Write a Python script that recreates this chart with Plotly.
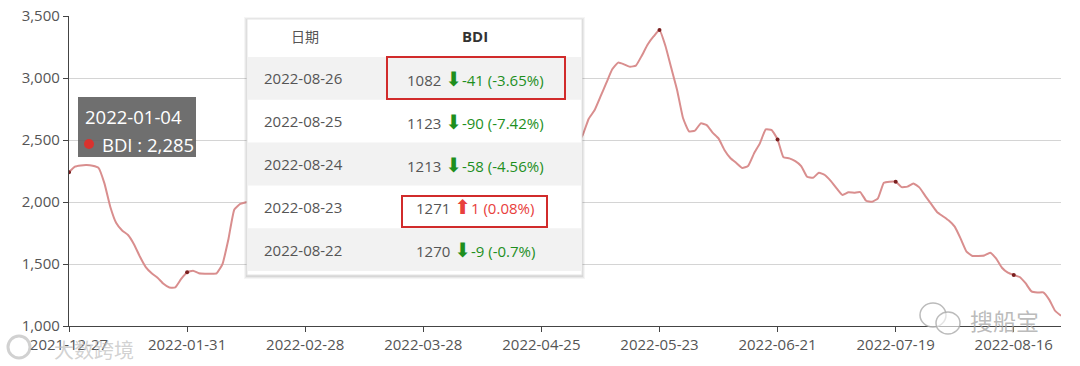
import plotly.graph_objects as go

# ---------------- data ----------------
bdi_values = [
    2240, 2285, 2295, 2298, 2292, 2275, 2150, 1960, 1830, 1770,
    1734, 1660, 1560, 1475, 1425, 1390, 1340, 1310, 1312, 1380,
    1433, 1446, 1425, 1422, 1422, 1425, 1500, 1700, 1940, 1984,
    1998, 2005, 2030, 2080, 2150, 2200, 2260, 2300, 2340, 2380,
    2410, 2450, 2520, 2600, 2660, 2700, 2720, 2700, 2680, 2640,
    2600, 2560, 2500, 2450, 2420, 2380, 2350, 2320, 2300, 2280,
    2260, 2240, 2220, 2200, 2180, 2150, 2120, 2100, 2090, 2080,
    2070, 2080, 2100, 2130, 2170, 2210, 2240, 2260, 2290, 2320,
    2350, 2370, 2390, 2400, 2420, 2440, 2470, 2540, 2670, 2740,
    2850, 2960, 3070, 3124, 3110, 3091, 3100, 3180, 3270, 3335,
    3387, 3260, 3080, 2900, 2675, 2570, 2575, 2634, 2620, 2560,
    2513, 2420, 2355, 2315, 2275, 2290, 2390, 2473, 2585, 2580,
    2505, 2360, 2352, 2330, 2290, 2204, 2195, 2236, 2218, 2170,
    2110, 2056, 2078, 2075, 2080, 2010, 2002, 2030, 2155, 2164,
    2164, 2120, 2124, 2150, 2118, 2050, 1985, 1920, 1885, 1850,
    1801, 1705, 1600, 1565, 1565, 1568, 1591, 1545, 1470, 1430,
    1411, 1395, 1345, 1279, 1270, 1271, 1213, 1123, 1082,
]
tick_labels = ["2021-12-27", "2022-01-31", "2022-02-28", "2022-03-28", "2022-04-25",
               "2022-05-23", "2022-06-21", "2022-07-19", "2022-08-16"]
tick_step = 20  # trading days between labelled categories
y_ticks = [1000, 1500, 2000, 2500, 3000, 3500]

table_dates = ["2022-08-26", "2022-08-25", "2022-08-24", "2022-08-23", "2022-08-22"]
table_bdi = [1082, 1123, 1213, 1271, 1270]
table_change = [-41, -90, -58, 1, -9]
table_pct = ["-3.65%", "-7.42%", "-4.56%", "0.08%", "-0.7%"]

tooltip_date = "2022-01-04"
tooltip_value = 2285

# ---------------- figure ----------------
x_idx = list(range(len(bdi_values)))
tick_idx = list(range(0, len(bdi_values), tick_step))[:len(tick_labels)]

L, R, T, B = 69, 1061, 16, 326
W, H = 1080, 366


def px(x):
    return (x - L) / (R - L)


def py(y):
    return (B - y) / (B - T)


FONT = "Open Sans, Noto Sans, DejaVu Sans, sans-serif"

fig = go.Figure()
fig.add_trace(go.Scatter(
    x=x_idx, y=bdi_values, mode="lines",
    line=dict(color="#d98e8e", width=2, shape="spline", smoothing=0.4),
    hoverinfo="skip", showlegend=False,
))
fig.add_trace(go.Scatter(
    x=tick_idx, y=[bdi_values[i] for i in tick_idx], mode="markers",
    marker=dict(color="#7a1f1f", size=4),
    hoverinfo="skip", showlegend=False,
))

shapes = []
annotations = []


def text(x, y, s, size=14, color="#555", family=FONT, xanchor="center"):
    annotations.append(dict(x=px(x), y=py(y), xref="paper", yref="paper", text=s,
                            xanchor=xanchor, yanchor="middle", showarrow=False,
                            font=dict(family=family, size=size, color=color)))


# ---- table overlay ----
tx0, tx1, ty0, ty1 = 247, 582, 19, 275
for off, op in [(3, 0.04), (2, 0.05), (1, 0.07)]:
    shapes.append(dict(type="rect", xref="paper", yref="paper",
                       x0=px(tx0 - off), x1=px(tx1 + off), y0=py(ty1 + off + 1), y1=py(ty0 - off + 1),
                       fillcolor=f"rgba(0,0,0,{op})", line=dict(width=0), layer="above"))
shapes.append(dict(type="rect", xref="paper", yref="paper",
                   x0=px(tx0), x1=px(tx1), y0=py(ty1), y1=py(ty0),
                   fillcolor="white", line=dict(color="#e4e4e4", width=1), layer="above"))
row_top = 57
row_h = 42.8
for r in range(len(table_dates)):
    y0 = row_top + r * row_h
    if r % 2 == 0:
        shapes.append(dict(type="rect", xref="paper", yref="paper",
                           x0=px(tx0 + 1), x1=px(tx1 - 1), y0=py(y0 + row_h), y1=py(y0),
                           fillcolor="#f2f2f2", line=dict(width=0), layer="above"))

text(305, 36, "日期", size=14, family="Noto Sans CJK SC")
text(475, 36, "<b>BDI</b>", size=15, color="#333")
for r in range(len(table_dates)):
    yc = row_top + r * row_h + row_h / 2
    text(303, yc, table_dates[r], size=15)
    ch = table_change[r]
    col = "#1e8f1e" if ch < 0 else "#e8403c"
    arrow = "⬇" if ch < 0 else "⬆"
    s = (f"{table_bdi[r]} <span style='color:{col};font-size:20px'>{arrow}</span>"
         f"<span style='color:{col}'>{ch} ({table_pct[r]})</span>")
    text(475, yc, s, size=15)

# red highlight boxes
shapes.append(dict(type="rect", xref="paper", yref="paper",
                   x0=px(387), x1=px(565), y0=py(99), y1=py(57),
                   line=dict(color="#d12b2b", width=2), fillcolor="rgba(0,0,0,0)", layer="above"))
shapes.append(dict(type="rect", xref="paper", yref="paper",
                   x0=px(402), x1=px(547), y0=py(227), y1=py(196),
                   line=dict(color="#d12b2b", width=2), fillcolor="rgba(0,0,0,0)", layer="above"))

# ---- hover tooltip ----
shapes.append(dict(type="rect", xref="paper", yref="paper",
                   x0=px(78), x1=px(196), y0=py(157), y1=py(97),
                   fillcolor="rgba(95,95,95,0.9)", line=dict(width=0), layer="above"))
text(83, 116, tooltip_date, size=18.5, color="white", xanchor="left")
shapes.append(dict(type="circle", xref="paper", yref="paper",
                   x0=px(84), x1=px(94), y0=py(149), y1=py(139),
                   fillcolor="#d9322e", line=dict(width=0), layer="above"))
text(100, 144, f"BDI : {tooltip_value:,}", size=18.5, color="white", xanchor="left")

# ---- watermarks ----
text(52, 349, "大数跨境", size=20, color="rgba(190,190,190,0.7)", family="Noto Sans CJK SC", xanchor="left")
shapes.append(dict(type="circle", xref="paper", yref="paper",
                   x0=px(8), x1=px(30), y0=py(358), y1=py(336),
                   line=dict(color="rgba(190,190,190,0.7)", width=3), fillcolor="rgba(0,0,0,0)"))
text(968, 320, "搜船宝", size=23, color="rgba(165,165,165,0.75)", family="Noto Sans CJK SC", xanchor="left")
shapes.append(dict(type="circle", xref="paper", yref="paper",
                   x0=px(920), x1=px(946), y0=py(327), y1=py(303),
                   line=dict(color="rgba(170,170,170,0.8)", width=1.5), fillcolor="rgba(255,255,255,0.6)", layer="above"))
shapes.append(dict(type="circle", xref="paper", yref="paper",
                   x0=px(936), x1=px(960), y0=py(334), y1=py(312),
                   line=dict(color="rgba(170,170,170,0.8)", width=1.5), fillcolor="rgba(255,255,255,0.6)", layer="above"))

fig.update_layout(
    width=W, height=H,
    margin=dict(l=L, r=W - R, t=T, b=H - B, autoexpand=False),
    paper_bgcolor="white", plot_bgcolor="white",
    showlegend=False,
    shapes=shapes, annotations=annotations,
    font=dict(family=FONT, size=15, color="#555"),
    xaxis=dict(
        range=[0, len(bdi_values) - 1], tickmode="array", tickvals=tick_idx, ticktext=tick_labels,
        showgrid=False, zeroline=False, showline=True, linecolor="#444", linewidth=1.3,
        ticks="outside", ticklen=5, tickcolor="#444", tickfont=dict(size=15, color="#555"),
        automargin=False,
    ),
    yaxis=dict(
        range=[1000, 3500], tickmode="array", tickvals=y_ticks, tickformat=",",
        showgrid=True, gridcolor="#d4d4d4", gridwidth=1, zeroline=False,
        showline=True, linecolor="#444", linewidth=1.3,
        ticks="outside", ticklen=5, tickcolor="#444", tickfont=dict(size=15, color="#555"),
        automargin=False,
    ),
)

fig.write_html("out.html")
